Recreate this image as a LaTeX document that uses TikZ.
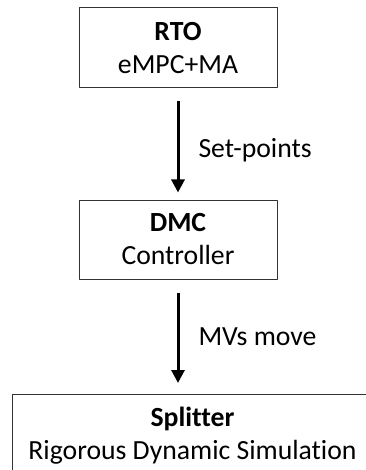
\documentclass[tikz,border=0pt]{standalone}
\usepackage{fontspec}
\setmainfont[Ligatures=NoCommon]{Carlito}
\usetikzlibrary{arrows.meta}
\tikzset{
	blok/.style={draw=black!80, line width=1pt, align=center, inner sep=0pt},
	pijl/.style={->, line width=3pt},
}
\begin{document}
\begin{tikzpicture}[x=1pt, y=-1pt, font=\fontsize{27.7}{33}\selectfont, line join=round,
	>={Triangle[length=13pt, width=13pt]}]
	\useasboundingbox (0,0) rectangle (365,470);
	
	\node[blok, minimum width=198pt, minimum height=80pt] (RTO) at (178,48) {\textbf{RTO}\\eMPC+MA};
	\node[blok, minimum width=198pt, minimum height=79pt] (DMC) at (178,239.5) {\textbf{DMC}\\Controller};
	% splitter box runs off the right and bottom edge
	\draw[blok] (12,480) |- (380,394);
	\coordinate (SPLtop) at (178,394);
	\node[align=center, inner sep=0pt, text depth=0pt] (SPL) at (192.5,433) {\textbf{Splitter}\\Rigorous Dynamic Simulation};
	
	\draw[pijl, shorten <=13pt, shorten >=7pt] (RTO) -- (DMC)
		node[midway, right=19pt, inner sep=0pt, yshift=-6pt]{Set-points};
	\draw[pijl, shorten <=13pt, shorten >=11pt] (DMC.south) -- (SPLtop)
		node[midway, right=19pt, inner sep=0pt]{MVs move};
\end{tikzpicture}
\end{document}
